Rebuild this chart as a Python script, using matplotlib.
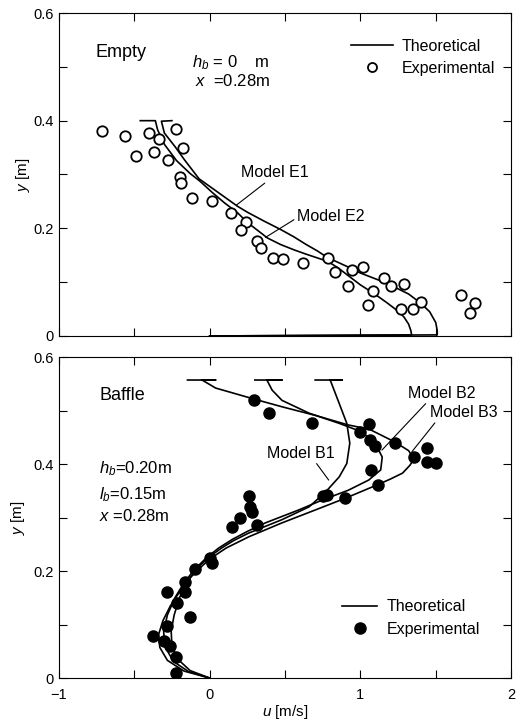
import matplotlib
matplotlib.use("Agg")
import matplotlib.pyplot as plt
from matplotlib.lines import Line2D
from matplotlib.ticker import MultipleLocator

plt.rcParams['font.family'] = ['Liberation Sans', 'DejaVu Sans']
plt.rcParams['mathtext.fontset'] = 'custom'
plt.rcParams['mathtext.it'] = 'Liberation Sans:italic'
plt.rcParams['mathtext.rm'] = 'Liberation Sans'

# ---------------- Top panel (Empty) ----------------
empty_exp_u = [-0.717, -0.563, -0.402, -0.336, -0.225, -0.486, -0.369, -0.276, -0.177,
               -0.199, -0.188, -0.115, 0.015, 0.143, 0.243, 0.210, 0.316, 0.338, 0.419,
               0.486, 0.620, 0.784, 0.834, 0.945, 1.015, 0.916, 1.082, 1.053, 1.159,
               1.203, 1.287, 1.269, 1.347, 1.402, 1.667, 1.759, 1.728]
empty_exp_y = [0.381, 0.372, 0.378, 0.366, 0.384, 0.334, 0.341, 0.327, 0.349,
               0.296, 0.284, 0.257, 0.251, 0.229, 0.211, 0.196, 0.177, 0.163, 0.144,
               0.143, 0.136, 0.144, 0.118, 0.123, 0.129, 0.092, 0.084, 0.058, 0.107,
               0.092, 0.097, 0.051, 0.051, 0.063, 0.076, 0.061, 0.043]

e1_u = [-0.25, -0.32, -0.30, -0.23, -0.166, -0.07, 0.03, 0.12, 0.185, 0.25, 0.364, 0.47,
        0.56, 0.64, 0.715, 0.78, 0.85, 0.92, 1.0, 1.12, 1.225, 1.32, 1.40, 1.46, 1.50,
        1.51, 1.51, 0.0]
e1_y = [0.400, 0.399, 0.377, 0.352, 0.327, 0.292, 0.272, 0.254, 0.241, 0.230, 0.213,
        0.198, 0.184, 0.170, 0.158, 0.146, 0.137, 0.128, 0.117, 0.104, 0.091, 0.078,
        0.061, 0.045, 0.025, 0.010, 0.002, 0.0]

e2_u = [-0.46, -0.36, -0.345, -0.30, -0.22, -0.13, -0.066, 0.02, 0.10, 0.185, 0.25,
        0.384, 0.47, 0.56, 0.64, 0.715, 0.78, 0.85, 0.92, 1.0, 1.10, 1.18, 1.25, 1.29,
        1.32, 1.335, 1.34, 0.0]
e2_y = [0.400, 0.400, 0.383, 0.356, 0.326, 0.302, 0.288, 0.266, 0.247, 0.229, 0.211,
        0.182, 0.170, 0.160, 0.152, 0.145, 0.139, 0.127, 0.112, 0.095, 0.077, 0.061,
        0.046, 0.035, 0.022, 0.010, 0.002, 0.0]

# ---------------- Bottom panel (Baffle) ----------------
baffle_exp_u = [0.294, 0.395, 0.68, 1.055, 1.0, 1.066, 1.10, 1.23, 1.353, 1.44, 1.44,
                1.503, 1.07, 1.12, 0.90, 0.75, 0.78, 0.26, 0.27, 0.28, 0.20, 0.15, 0.315,
                0.0, 0.018, -0.094, -0.166, -0.16, -0.28, -0.214, -0.127, -0.28, -0.373,
                -0.30, -0.26, -0.22, -0.22]
baffle_exp_y = [0.520, 0.496, 0.476, 0.475, 0.460, 0.445, 0.433, 0.439, 0.413, 0.430,
                0.404, 0.401, 0.388, 0.361, 0.336, 0.340, 0.343, 0.340, 0.320, 0.311,
                0.299, 0.283, 0.286, 0.224, 0.215, 0.204, 0.180, 0.161, 0.161, 0.140,
                0.114, 0.098, 0.078, 0.069, 0.059, 0.040, 0.010]

b1_u = [0.70, 0.88, 0.80, 0.86, 0.91, 0.93, 0.91, 0.86, 0.77, 0.66, 0.48, 0.26, 0.16,
        0.085, 0.0, -0.08, -0.15, -0.20, -0.235, -0.255, -0.25, -0.21, -0.13, 0.0]
b1_y = [0.557, 0.557, 0.557, 0.513, 0.476, 0.439, 0.401, 0.376, 0.348, 0.320, 0.296,
        0.271, 0.257, 0.244, 0.227, 0.206, 0.180, 0.150, 0.118, 0.088, 0.060, 0.035,
        0.014, 0.0]

b2_u = [0.30, 0.48, 0.38, 0.415, 0.48, 0.66, 0.86, 1.01, 1.10, 1.145, 1.135, 1.055, 0.92,
        0.75, 0.59, 0.37, 0.25, 0.15, 0.06, -0.02, -0.10, -0.17, -0.23, -0.28, -0.305,
        -0.295, -0.24, -0.14, 0.0]
b2_y = [0.557, 0.557, 0.557, 0.538, 0.519, 0.495, 0.476, 0.460, 0.438, 0.413, 0.389,
        0.370, 0.351, 0.333, 0.314, 0.290, 0.274, 0.259, 0.243, 0.225, 0.203, 0.178,
        0.150, 0.118, 0.087, 0.058, 0.031, 0.012, 0.0]

b3_u = [-0.147, 0.04, -0.05, 0.04, 0.30, 0.48, 0.70, 0.92, 1.06, 1.23, 1.32, 1.355, 1.33,
        1.28, 1.20, 1.12, 0.90, 0.70, 0.48, 0.26, 0.11, 0.03, -0.04, -0.12, -0.19,
        -0.26, -0.31, -0.34, -0.33, -0.28, -0.17, 0.0]
b3_y = [0.557, 0.557, 0.557, 0.542, 0.521, 0.507, 0.491, 0.473, 0.465, 0.441, 0.425,
        0.410, 0.398, 0.383, 0.372, 0.362, 0.336, 0.314, 0.290, 0.264, 0.243, 0.228,
        0.212, 0.190, 0.165, 0.135, 0.107, 0.080, 0.057, 0.033, 0.013, 0.0]

x_ticks = [-1, 0, 1, 2]
x_ticklabels = ['\u22121', '0', '1', '2']
y_ticks = [0, 0.2, 0.4, 0.6]
y_ticklabels = ['0', '0.2', '0.4', '0.6']

fig = plt.figure(figsize=(5.21, 7.23), dpi=100)
ax1 = fig.add_axes([0.113, 0.5353, 0.868, 0.4467])
ax2 = fig.add_axes([0.113, 0.0622, 0.868, 0.4440])

LW = 1.2
for ax in (ax1, ax2):
    ax.set_xlim(-1, 2)
    ax.set_ylim(0, 0.6)
    ax.set_xticks(x_ticks)
    ax.set_yticks(y_ticks)
    ax.set_yticklabels(y_ticklabels)
    ax.xaxis.set_minor_locator(MultipleLocator(0.5))
    ax.yaxis.set_minor_locator(MultipleLocator(0.1))
    ax.tick_params(which='both', direction='in', top=True, right=True, labelsize=10.5,
                   width=0.8, colors='black')
    ax.tick_params(which='major', length=6)
    ax.tick_params(which='minor', length=6)
    ax.tick_params(axis='x', pad=7)
    for s in ax.spines.values():
        s.set_linewidth(0.8)

ax1.set_xticklabels([])
ax2.set_xticklabels(x_ticklabels)

# top panel
ax1.plot(e1_u, e1_y, color='black', lw=LW, solid_joinstyle='round')
ax1.plot(e2_u, e2_y, color='black', lw=LW, solid_joinstyle='round')
ax1.plot(empty_exp_u, empty_exp_y, 'o', mfc='white', mec='black', mew=1.3, ms=7.5,
         linestyle='none')
ax1.set_ylabel('$y$ [m]', fontsize=11)
ax1.yaxis.set_label_coords(-0.06, 0.5)

ax1.text(-0.76, 0.526, 'Empty', fontsize=13, va='center', ha='left')
ax1.text(-0.12, 0.507, '$h_b$ = 0    m', fontsize=12, va='center', ha='left')
ax1.text(-0.10, 0.473, '$x$  =0.28m', fontsize=12, va='center', ha='left')
ax1.annotate('Model E1', xy=(0.177, 0.243), xytext=(0.21, 0.303), fontsize=11.5,
             va='center', ha='left',
             arrowprops=dict(arrowstyle='-', lw=0.8, shrinkA=0, shrinkB=0,
                             relpos=(0.4, 0.0)))
ax1.annotate('Model E2', xy=(0.37, 0.183), xytext=(0.578, 0.222), fontsize=11.5,
             va='center', ha='left',
             arrowprops=dict(arrowstyle='-', lw=0.8, shrinkA=0, shrinkB=0,
                             relpos=(0.0, 0.4)))
h_line = Line2D([], [], color='black', lw=LW)
h_open = Line2D([], [], marker='o', mfc='white', mec='black', mew=1.3, ms=6.5,
                linestyle='none')
ax1.legend([h_line, h_open], ['Theoretical', 'Experimental'], loc='upper left',
           bbox_to_anchor=(0.646, 0.92), frameon=False, fontsize=11.5,
           handlelength=2.6, handletextpad=0.6, labelspacing=0.45, borderpad=0,
           borderaxespad=0)

# bottom panel
for cu, cy in ((b1_u, b1_y), (b2_u, b2_y), (b3_u, b3_y)):
    ax2.plot(cu, cy, color='black', lw=LW, solid_joinstyle='round')
ax2.plot(baffle_exp_u, baffle_exp_y, 'o', color='black', ms=8, linestyle='none')
ax2.set_xlabel('$u$ [m/s]', fontsize=11, labelpad=1)
ax2.set_ylabel('$y$ [m]', fontsize=11)
ax2.yaxis.set_label_coords(-0.07, 0.5)

ax2.text(-0.733, 0.529, 'Baffle', fontsize=13, va='center', ha='left')
ax2.text(-0.733, 0.392, '$h_b$=0.20m', fontsize=12, va='center', ha='left')
ax2.text(-0.733, 0.342, '$l_b$=0.15m', fontsize=12, va='center', ha='left')
ax2.text(-0.733, 0.302, '$x$ =0.28m', fontsize=12, va='center', ha='left')
ax2.annotate('Model B1', xy=(0.79, 0.37), xytext=(0.382, 0.42), fontsize=11.5,
             va='center', ha='left',
             arrowprops=dict(arrowstyle='-', lw=0.8, shrinkA=0, shrinkB=0,
                             relpos=(0.7, 0.0)))
ax2.annotate('Model B2', xy=(1.143, 0.426), xytext=(1.316, 0.532), fontsize=11.5,
             va='center', ha='left',
             arrowprops=dict(arrowstyle='-', lw=0.8, shrinkA=0, shrinkB=0,
                             relpos=(0.3, 0.0)))
ax2.annotate('Model B3', xy=(1.342, 0.423), xytext=(1.464, 0.496), fontsize=11.5,
             va='center', ha='left',
             arrowprops=dict(arrowstyle='-', lw=0.8, shrinkA=0, shrinkB=0,
                             relpos=(0.1, 0.0)))
h_fill = Line2D([], [], marker='o', color='black', ms=8, linestyle='none')
ax2.legend([h_line, h_fill], ['Theoretical', 'Experimental'], loc='upper left',
           bbox_to_anchor=(0.626, 0.245), frameon=False, fontsize=11.5,
           handlelength=2.2, handletextpad=0.6, labelspacing=0.45, borderpad=0,
           borderaxespad=0)

fig.savefig('out.png', dpi=100)
